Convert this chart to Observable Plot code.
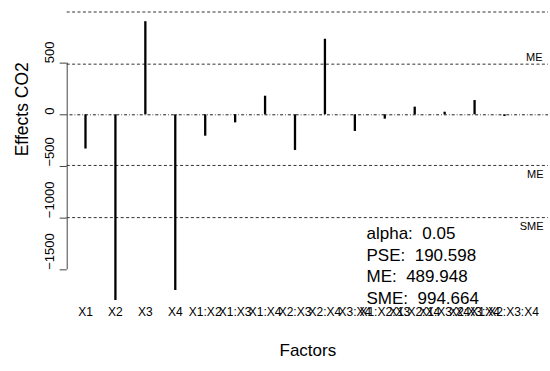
<!DOCTYPE html>
<html><head><meta charset="utf-8">
<script src="https://cdn.jsdelivr.net/npm/d3@7"></script>
<script src="https://cdn.jsdelivr.net/npm/@observablehq/plot@0.6"></script>
<style>body{margin:0;background:#fff} #chart svg{display:block}</style>
</head><body><div id="chart"></div>
<script>
const factors = ["X1","X2","X3","X4","X1:X2","X1:X3","X1:X4","X2:X3","X2:X4","X3:X4","X1:X2:X3","X1:X2:X4","X1:X3:X4","X2:X3:X4","X1:X2:X3:X4"];
const effects = [-331, -1797, 901, -1700, -207, -78, 180, -345, 731, -161, -42, 74, 25, 138, -17];
const yTicks = [-1500, -1000, -500, 0, 500];
const limitValues = [994.664, 489.948, -489.948, -994.664];
const limitLabels = [
  {value: 489.948, label: "ME", above: true},
  {value: -489.948, label: "ME", above: false},
  {value: -994.664, label: "SME", above: false}
];
const stats = ["alpha:\u00a0 0.05", "PSE:\u00a0 190.598", "ME:\u00a0 489.948", "SME:\u00a0 994.664"];

const data = factors.map((f, i) => ({pos: i + 1, factor: f, effect: effects[i]}));
const xDomain = [0.389, 16.47];
const fmt = d => String(d).replace("-", "\u2212");

const chart = Plot.plot({
  width: 550,
  height: 371,
  marginLeft: 66.7,
  marginRight: 2,
  marginTop: 0,
  marginBottom: 59.4,
  style: {fontFamily: "'Liberation Sans', Arial, sans-serif", background: "#fff", color: "#000"},
  x: {domain: xDomain, axis: null},
  y: {domain: [-1909, 1106], axis: null},
  marks: [
    Plot.ruleY(limitValues, {y: d => d, stroke: "#333", strokeWidth: 1, strokeDasharray: "3,2.4"}),
    Plot.ruleY([0], {y: d => d, stroke: "#222", strokeWidth: 1, strokeDasharray: "0.8,2,3,2"}),
    Plot.ruleX(data, {x: "pos", y1: 0, y2: "effect", stroke: "#000", strokeWidth: 2.3}),
    Plot.ruleX([xDomain[0]], {x: d => d, y1: yTicks[0], y2: yTicks[yTicks.length - 1], stroke: "#444", strokeWidth: 1}),
    Plot.axisY({ticks: yTicks, tickSize: 7, tickFormat: () => "", label: null, stroke: "#444"}),
    Plot.text(yTicks, {y: d => d, text: fmt, frameAnchor: "left", dx: -17, rotate: -90, fontSize: 13, fill: "#000"}),
    Plot.axisX({ticks: d3.range(1, factors.length + 1), tickSize: 0, tickPadding: -5, tickFormat: i => factors[i - 1], fontSize: 12, label: null}),
    Plot.text(limitLabels.filter(d => d.above), {y: "value", text: "label", frameAnchor: "right", textAnchor: "end", dx: -6, dy: -7, fontSize: 11}),
    Plot.text(limitLabels.filter(d => !d.above), {y: "value", text: "label", frameAnchor: "right", textAnchor: "end", dx: -5, dy: 9, fontSize: 11}),
    Plot.text([stats.join("\n")], {text: d => d, frameAnchor: "bottom-right", textAnchor: "start", lineAnchor: "bottom", dx: -182, dy: -8, fontSize: 17, lineHeight: 1.28}),
    Plot.text(["Effects CO2"], {text: d => d, frameAnchor: "left", dx: -45, rotate: -90, fontSize: 17.5}),
    Plot.text(["Factors"], {text: d => d, frameAnchor: "bottom", dy: 43.4, fontSize: 17})
  ]
});
document.getElementById("chart").appendChild(chart);
</script>
</body></html>
